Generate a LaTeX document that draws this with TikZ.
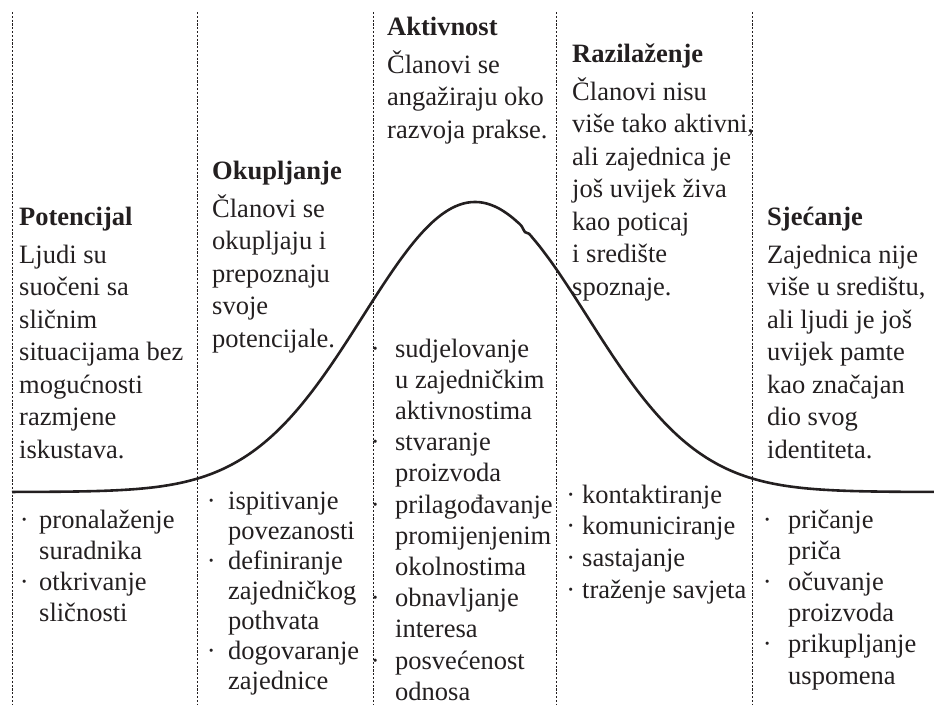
\documentclass[tikz,border=0pt]{standalone}
\usepackage{fontspec}
\setmainfont{Liberation Serif}
\definecolor{ink}{HTML}{231F20}
\tikzset{
  % nodes are placed by the baseline of their last line
  txt/.style={anchor=base west, align=left, inner sep=0pt, text=ink,
    font=\fontsize{26.5}{32.5}\selectfont},
  lst/.style={anchor=base west, align=left, inner sep=0pt, text=ink,
    font=\fontsize{26.5}{31.2}\selectfont},
  divider/.style={draw=ink, line width=0.9pt, dash pattern=on 2.2pt off 1.6pt},
  lifecurve/.style={draw=ink, line width=2.6pt}
}
% bullet hung to the left of the item text
\newcommand\bul[1][12]{\llap{·\hspace{#1pt}}}
\begin{document}
\begin{tikzpicture}[x=1pt,y=-1pt]
\useasboundingbox (0,0) rectangle (934,705);

% column dividers
\foreach \x in {12,197,373,556,752}
  \draw[divider] (\x,12) -- (\x,705);

% life-cycle curve
\draw[lifecurve] plot[domain=12:934, samples=240, smooth]
  (\x,{492-290*exp(-(((\x-475)/100)^2)/2.5088)});

% stage descriptions
\node[txt] (pot) at (19,458) {\textbf{Potencijal}\\[5.5pt]
  Ljudi su\\ suočeni sa\\ sličnim\\ situacijama bez\\ mogućnosti\\ razmjene\\ iskustava.};
\node[txt] (oku) at (212,347) {\textbf{Okupljanje}\\[5.5pt]
  Članovi se\\ okupljaju i\\ prepoznaju\\ svoje\\ potencijale.};
\node[txt] (akt) at (387,138) {\textbf{Aktivnost}\\[5.5pt]
  Članovi se\\ angažiraju oko\\ razvoja prakse.};
\node[txt] (raz) at (572,295) {\textbf{Razilaženje}\\[5.5pt]
  Članovi nisu\\ više tako aktivni,\\ ali zajednica je\\ još uvijek živa\\ kao poticaj\\ i središte\\ spoznaje.};
\node[txt] (sje) at (767,458) {\textbf{Sjećanje}\\[5.5pt]
  Zajednica nije\\ više u središtu,\\ ali ljudi je još\\ uvijek pamte\\ kao značajan\\ dio svog\\ identiteta.};

% activity lists
\node[lst] (potlist) at (39,621.6) {\bul[10.5]pronalaženje\\ suradnika\\
  \bul[10.5]otkrivanje\\ sličnosti};
\node[lst, font=\fontsize{26.5}{30}\selectfont] (okulist) at (228,689) {\bul[12.5]ispitivanje\\ povezanosti\\
  \bul[12.5]definiranje\\ zajedničkog\\ pothvata\\ \bul[12.5]dogovaranje\\ zajednice};
\node[lst] (aktlist) at (395,700.2) {\bul[15.5]sudjelovanje\\ u zajedničkim\\ aktivnostima\\
  \bul[15.5]stvaranje\\ proizvoda\\ \bul[15.5]prilagođavanje\\ promijenjenim\\ okolnostima\\
  \bul[15.5]obnavljanje\\ interesa\\ \bul[15.5]posvećenost\\ odnosa};
\node[lst, font=\fontsize{26.5}{31.7}\selectfont] (razlist) at (582,598.1) {\bul[7]kontaktiranje\\ \bul[7]komuniciranje\\
  \bul[7]sastajanje\\ \bul[7]traženje savjeta};
\node[lst] (sjelist) at (788,684) {\bul[16.5]pričanje\\ priča\\ \bul[16.5]očuvanje\\ proizvoda\\
  \bul[16.5]prikupljanje\\ uspomena};
\end{tikzpicture}
\end{document}
